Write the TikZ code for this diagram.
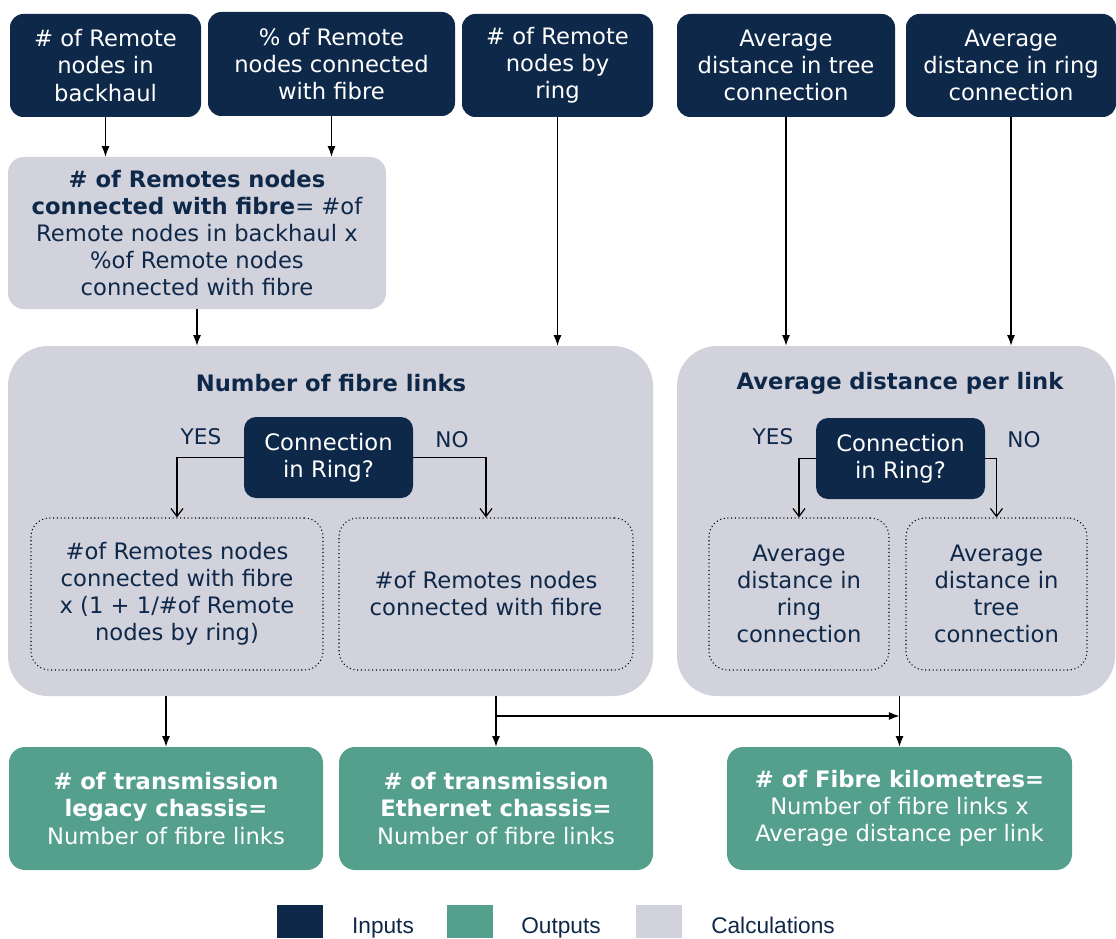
\documentclass[tikz,border=0pt]{standalone}
\usepackage{fontspec}
\setmainfont{DejaVu Sans}
\newfontfamily\legendfont{Liberation Sans}
\usetikzlibrary{arrows.meta,calc}
\definecolor{navy}{HTML}{0E2849}
\definecolor{outgreen}{HTML}{54A08D}
\definecolor{calcgrey}{HTML}{D2D2DC}
\newcommand\pxu{0.75pt}
\tikzset{
  basefont/.style={font=\fontsize{17pt}{20.3pt}\selectfont},
  inbox/.style={basefont, fill=navy, text=white, rounded corners=10pt, align=center, inner sep=0pt},
  calcbox/.style={basefont, fill=calcgrey, text=navy, rounded corners=12pt, align=center, inner sep=0pt},
  bigbox/.style={fill=calcgrey, rounded corners=30pt, inner sep=0pt},
  titletext/.style={font=\fontsize{17pt}{20.3pt}\selectfont\bfseries, text=navy},
  decbox/.style={basefont, fill=navy, text=white, rounded corners=9pt, align=center, inner sep=0pt},
  optbox/.style={basefont, draw=black, dotted, line width=0.8pt, text=navy, rounded corners=14pt, align=center, inner sep=0pt},
  outbox/.style={basefont, fill=outgreen, text=white, rounded corners=12pt, align=center, inner sep=0pt},
  yntext/.style={font=\fontsize{16.2pt}{19pt}\selectfont, text=navy},
  flow/.style={line width=0.9pt, -{Latex[length=8pt,width=6pt]}},
  branch/.style={line width=0.9pt, -{Straight Barb[length=6pt,width=9pt]}},
  legsq/.style={inner sep=0pt, minimum width=46*\pxu, minimum height=33*\pxu},
  legtext/.style={font=\legendfont\fontsize{17pt}{20pt}\selectfont, text=navy, anchor=base}
}
\begin{document}
\begin{tikzpicture}[x=0.75pt,y=-0.75pt]
\useasboundingbox (0,0) rectangle (1116,938);

% inputs
\node[inbox, minimum width=191*\pxu, minimum height=103*\pxu] (in1) at (105.5,65.5) {\# of Remote\\nodes in\\backhaul};
\node[inbox, minimum width=247*\pxu, minimum height=104*\pxu] (in2) at (331.5,64) {\% of Remote\\nodes connected\\with fibre};
\node[inbox, minimum width=191*\pxu, minimum height=103*\pxu] (in3) at (557.5,65.5) {\# of Remote\\nodes by\\ring};
\node[inbox, minimum width=218*\pxu, minimum height=103*\pxu] (in4) at (786,65.5) {Average\\distance in tree\\connection};
\node[inbox, minimum width=210*\pxu, minimum height=103*\pxu] (in5) at (1011,65.5) {Average\\distance in ring\\connection};

% first calculation
\node[calcbox, minimum width=378*\pxu, minimum height=152*\pxu] (calc) at (197,233)
  {\textbf{\# of Remotes nodes}\\\textbf{connected with fibre}= \#of\\Remote nodes in backhaul x\\\%of Remote nodes\\connected with fibre};

% big calculation boxes
\node[bigbox, minimum width=645*\pxu, minimum height=350*\pxu] (big1) at (330.5,521) {};
\node[bigbox, minimum width=438*\pxu, minimum height=350*\pxu] (big2) at (896,521) {};
\node[titletext] (t1) at (331,383) {Number of fibre links};
\node[titletext] (t2) at (900,383) {Average distance per link};

% decisions
\node[decbox, minimum width=169*\pxu, minimum height=81*\pxu] (dec1) at (328.5,457.5) {Connection\\in Ring?};
\node[decbox, minimum width=169*\pxu, minimum height=81*\pxu] (dec2) at (900.5,458.5) {Connection\\in Ring?};
\node[yntext] (yes1) at (201,437) {YES};
\node[yntext] (no1) at (452,440) {NO};
\node[yntext] (yes2) at (773,437) {YES};
\node[yntext] (no2) at (1024,440) {NO};

% options
\node[optbox, minimum width=292*\pxu, minimum height=152*\pxu] (d1) at (177,594)
  {\#of Remotes nodes\\connected with fibre\\x (1 + 1/\#of Remote\\nodes by ring)};
\node[optbox, minimum width=294*\pxu, minimum height=152*\pxu] (d2) at (486,594)
  {\#of Remotes nodes\\connected with fibre};
\node[optbox, minimum width=180*\pxu, minimum height=152*\pxu] (d3) at (799,594)
  {Average\\distance in\\ring\\connection};
\node[optbox, minimum width=181*\pxu, minimum height=152*\pxu] (d4) at (996.5,594)
  {Average\\distance in\\tree\\connection};

% outputs
\node[outbox, minimum width=314*\pxu, minimum height=123*\pxu] (out1) at (166,808.5)
  {\textbf{\# of transmission}\\\textbf{legacy chassis=}\\Number of fibre links};
\node[outbox, minimum width=314*\pxu, minimum height=123*\pxu] (out2) at (496,808.5)
  {\textbf{\# of transmission}\\\textbf{Ethernet chassis=}\\Number of fibre links};
\node[outbox, minimum width=345*\pxu, minimum height=123*\pxu] (out3) at (899.5,808.5)
  {\textbf{\# of Fibre kilometres=}\\Number of fibre links x\\Average distance per link};

% connectors
\draw[flow] (in1.south) -- (in1.south |- calc.north);
\draw[flow] (in2.south) -- (in2.south |- calc.north);
\draw[flow] (calc.south) -- (calc.south |- big1.north);
\draw[flow] (in3.south) -- (in3.south |- big1.north);
\draw[flow] (in4.south) -- (in4.south |- big2.north);
\draw[flow] (in5.south) -- (in5.south |- big2.north);

\draw[branch] (dec1.west) -| (d1.north);
\draw[branch] (dec1.east) -| (d2.north);
\draw[branch] (dec2.west) -| (d3.north);
\draw[branch] (dec2.east) -| (d4.north);

\draw[flow] (big1.south -| out1.north) -- (out1.north);
\draw[flow] (big1.south -| out2.north) -- (out2.north);
\draw[flow] (big2.south -| out3.north) -- (out3.north);
\coordinate (j1) at (496,716);
\coordinate (j2) at (899.5,716);
\draw[flow] (j1) -- (j2);

% legend
\node[legsq, fill=navy] (lg1) at (300,921.5) {};
\node[legsq, fill=outgreen] (lg2) at (470,921.5) {};
\node[legsq, fill=calcgrey] (lg3) at (658.5,921.5) {};
\node[legtext] (lt1) at (383,933) {Inputs};
\node[legtext] (lt2) at (561,933) {Outputs};
\node[legtext] (lt3) at (773,933) {Calculations};
\end{tikzpicture}
\end{document}
